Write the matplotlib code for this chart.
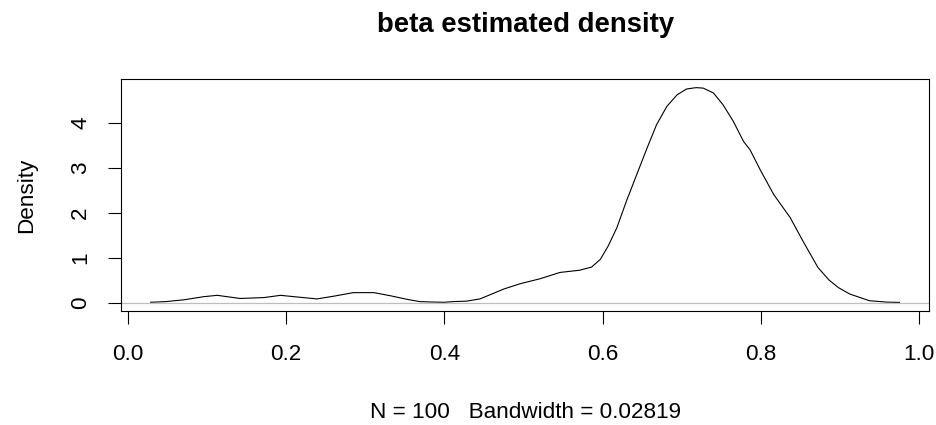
import numpy as np
import matplotlib
matplotlib.use("Agg")
import matplotlib.pyplot as plt

plt.rcParams['font.family'] = ['Liberation Sans', 'DejaVu Sans']

# density estimate
x = [0.029, 0.048, 0.071, 0.096, 0.113, 0.142, 0.172, 0.193, 0.210, 0.239,
     0.260, 0.285, 0.311, 0.332, 0.353, 0.369, 0.386, 0.400, 0.411, 0.428,
     0.445, 0.475, 0.496, 0.521, 0.546, 0.571, 0.586, 0.597, 0.607, 0.618,
     0.630, 0.643, 0.656, 0.668, 0.681, 0.694, 0.706, 0.718, 0.727, 0.740,
     0.752, 0.765, 0.778, 0.786, 0.799, 0.816, 0.837, 0.853, 0.872, 0.886,
     0.898, 0.912, 0.937, 0.958, 0.975]
y = [0.005, 0.02, 0.06, 0.13, 0.16, 0.09, 0.11, 0.16, 0.13, 0.08,
     0.14, 0.22, 0.22, 0.15, 0.07, 0.02, 0.01, 0.005, 0.02, 0.03,
     0.08, 0.30, 0.42, 0.53, 0.67, 0.72, 0.79, 0.96, 1.26, 1.67,
     2.26, 2.85, 3.44, 3.96, 4.37, 4.63, 4.76, 4.79, 4.78, 4.67,
     4.41, 4.04, 3.59, 3.41, 2.96, 2.41, 1.89, 1.37, 0.78, 0.50,
     0.33, 0.19, 0.04, 0.01, 0.002]

xticks = [0.0, 0.2, 0.4, 0.6, 0.8, 1.0]
xticklabels = ["0.0", "0.2", "0.4", "0.6", "0.8", "1.0"]
yticks = [0, 1, 2, 3, 4]

title = "beta estimated density"
xlab = "N = 100   Bandwidth = 0.02819"
ylab = "Density"

fig = plt.figure(figsize=(9.36, 4.25), dpi=100)
ax = fig.add_axes([0.129, 0.268, 0.864, 0.546])

ax.plot(x, y, color='black', lw=0.8)
ax.axhline(0, color='#BEBEBE', lw=0.9)

# R style 4% padding
xr = max(x) - min(x)
ax.set_xlim(min(x) - 0.04 * xr, max(x) + 0.04 * xr)
yr = max(y) - 0
ax.set_ylim(0 - 0.04 * yr, max(y) + 0.04 * yr)

ax.set_xticks(xticks)
ax.set_xticklabels(xticklabels)
ax.set_yticks(yticks)
ax.tick_params(axis='both', direction='out', length=9.4, width=0.8,
               labelsize=16.2, colors='black')
ax.tick_params(axis='x', pad=14)
ax.tick_params(axis='y', pad=12)
for lab in ax.get_yticklabels():
    lab.set_rotation(90)
    lab.set_va('center')
    lab.set_ha('right')

for s in ax.spines.values():
    s.set_linewidth(0.8)
    s.set_color('black')

ax.set_title(title, fontsize=19.8, fontweight='bold', pad=34)
ax.set_xlabel(xlab, fontsize=16.2, labelpad=27)
ax.set_ylabel(ylab, fontsize=16.2, labelpad=24)

fig.savefig("out.png", dpi=100)
